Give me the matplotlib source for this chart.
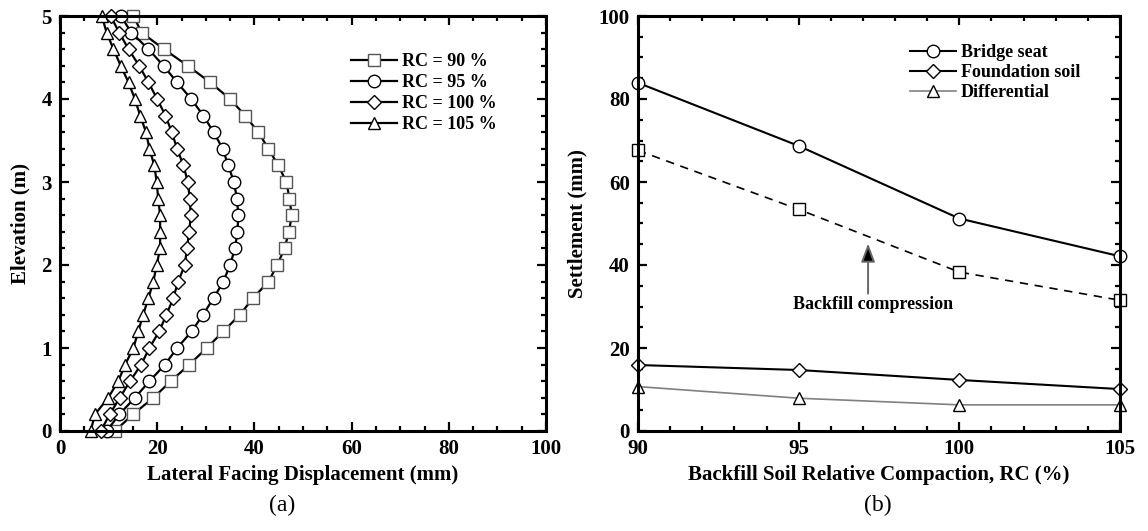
import matplotlib
matplotlib.use("Agg")
import matplotlib.pyplot as plt
from matplotlib.ticker import MultipleLocator

plt.rcParams['font.family'] = ['Liberation Serif', 'DejaVu Serif']
plt.rcParams['font.weight'] = 'bold'

# ---------------- data: panel (a) ----------------
elevation = [0.0, 0.2, 0.4, 0.6, 0.8, 1.0, 1.2, 1.4, 1.6, 1.8, 2.0, 2.2, 2.4,
             2.6, 2.8, 3.0, 3.2, 3.4, 3.6, 3.8, 4.0, 4.2, 4.4, 4.6, 4.8, 5.0]
disp_rc90 = [11.3, 15.0, 19.2, 22.8, 26.6, 30.2, 33.6, 37.0, 39.7, 42.9, 44.7, 46.2, 47.1,
             47.7, 47.2, 46.6, 44.9, 42.9, 40.8, 38.1, 35.0, 30.9, 26.3, 21.4, 16.8, 15.1]
disp_rc95 = [9.6, 12.2, 15.4, 18.4, 21.6, 24.1, 27.1, 29.4, 31.6, 33.6, 35.0, 36.0, 36.5,
             36.7, 36.4, 35.8, 34.6, 33.5, 31.6, 29.5, 27.0, 24.1, 21.3, 18.2, 14.7, 12.5]
disp_rc100 = [8.4, 10.2, 12.3, 14.4, 16.7, 18.4, 20.4, 21.9, 23.3, 24.3, 25.7, 26.1, 26.6,
              26.9, 26.7, 26.3, 25.4, 24.1, 23.0, 21.7, 20.0, 18.2, 16.3, 14.1, 12.2, 10.4]
disp_rc105 = [6.3, 7.2, 9.9, 12.0, 13.4, 15.1, 16.1, 17.1, 18.2, 19.2, 19.9, 20.6, 20.6,
              20.6, 20.2, 19.9, 19.4, 18.4, 17.7, 16.5, 15.4, 14.1, 12.5, 11.0, 9.6, 8.6]
labels_a = ['RC = 90 %', 'RC = 95 %', 'RC = 100 %', 'RC = 105 %']

# ---------------- data: panel (b) ----------------
rc = [90, 95, 100, 105]
bridge_seat = [83.9, 68.7, 51.2, 42.1]
foundation_soil = [15.9, 14.7, 12.3, 10.1]
differential = [10.7, 7.9, 6.3, 6.3]
backfill_compression = [67.6, 53.4, 38.3, 31.5]
labels_b = ['Bridge seat', 'Foundation soil', 'Differential']

fig = plt.figure(figsize=(11.48, 5.31), dpi=100)
W, H = 1148, 531
axA = fig.add_axes([60 / W, 1 - 431 / H, (546 - 60) / W, (431 - 16) / H])
axB = fig.add_axes([638 / W, 1 - 431 / H, (1120 - 638) / W, (431 - 16) / H])

TICK_FS = 15
LAB_FS = 15
LEG_FS = 13


def style(ax):
    for s in ax.spines.values():
        s.set_linewidth(2.2)
    ax.tick_params(which='both', direction='in', top=True, right=True,
                   labelsize=TICK_FS, width=1.6)
    ax.tick_params(which='major', length=6.5, pad=6)
    ax.tick_params(which='minor', length=3.5)
    for t in ax.get_xticklabels() + ax.get_yticklabels():
        t.set_fontweight('bold')


# ---- panel (a)
mk = dict(mfc='white', ms=9, mew=1.0, lw=1.6, color='black')
axA.plot(disp_rc90, elevation, marker='s', mec='#555555', label=labels_a[0], **mk)
axA.plot(disp_rc95, elevation, marker='o', mec='black', label=labels_a[1], **mk)
axA.plot(disp_rc100, elevation, marker='D', mec='black', label=labels_a[2],
         **{**mk, 'ms': 7})
axA.plot(disp_rc105, elevation, marker='^', mec='black', label=labels_a[3], **mk)
axA.set_xlim(0, 100)
axA.set_ylim(0, 5)
axA.xaxis.set_major_locator(MultipleLocator(20))
axA.xaxis.set_minor_locator(MultipleLocator(5))
axA.yaxis.set_major_locator(MultipleLocator(1))
axA.yaxis.set_minor_locator(MultipleLocator(0.2))
style(axA)
axA.set_xlabel('Lateral Facing Displacement (mm)', fontsize=LAB_FS, fontweight='bold', labelpad=4)
axA.set_ylabel('Elevation (m)', fontsize=LAB_FS, fontweight='bold', labelpad=8)
legA = axA.legend(loc='upper left', bbox_to_anchor=(0.598, 0.911), frameon=False,
                  fontsize=LEG_FS, handlelength=2.55, handletextpad=0.28,
                  labelspacing=0.22, borderaxespad=0, borderpad=0)
for t in legA.get_texts():
    t.set_fontweight('bold')

# ---- panel (b)
axB.plot(rc, bridge_seat, marker='o', color='black', mfc='white', mec='black',
         ms=9, mew=1.0, lw=1.5, label=labels_b[0])
axB.plot(rc, foundation_soil, marker='D', color='black', mfc='white', mec='black',
         ms=7, mew=1.0, lw=1.5, label=labels_b[1])
axB.plot(rc, differential, marker='^', color='#808080', mfc='white', mec='black',
         ms=9, mew=1.0, lw=1.2, label=labels_b[2])
axB.plot(rc, backfill_compression, marker='s', color='black', mfc='white', mec='black',
         ms=9, mew=1.0, lw=1.2, linestyle=(0, (5, 4)))
axB.set_xlim(90, 105)
axB.set_ylim(0, 100)
axB.xaxis.set_major_locator(MultipleLocator(5))
axB.xaxis.set_minor_locator(MultipleLocator(1))
axB.yaxis.set_major_locator(MultipleLocator(20))
axB.yaxis.set_minor_locator(MultipleLocator(5))
for line in axB.lines:
    line.set_clip_on(False)
for line in axA.lines:
    line.set_clip_on(False)
style(axB)
axB.set_xlabel('Backfill Soil Relative Compaction, RC (%)', fontsize=LAB_FS,
               fontweight='bold', labelpad=4)
axB.set_ylabel('Settlement (mm)', fontsize=LAB_FS, fontweight='bold', labelpad=8)
legB = axB.legend(loc='upper left', bbox_to_anchor=(0.564, 0.932), frameon=False,
                  fontsize=LEG_FS, handlelength=2.55, handletextpad=0.28,
                  labelspacing=0.16, borderaxespad=0, borderpad=0)
for t in legB.get_texts():
    t.set_fontweight('bold')

axB.annotate('', xy=(97.16, 45.2), xytext=(97.16, 33.1),
             arrowprops=dict(arrowstyle='-|>,head_length=0.8,head_width=0.3',
                             edgecolor='#666666', facecolor='black', lw=1.4,
                             mutation_scale=14, shrinkA=0, shrinkB=0))
axB.text(97.3, 30.5, 'Backfill compression', ha='center', va='center',
         fontsize=LEG_FS, fontweight='bold')

fig.text(282 / W, 1 - 505 / H, '(a)', ha='center', va='center', fontsize=17,
         fontweight='normal')
fig.text(878 / W, 1 - 505 / H, '(b)', ha='center', va='center', fontsize=17,
         fontweight='normal')

fig.savefig('out.png', dpi=100)
